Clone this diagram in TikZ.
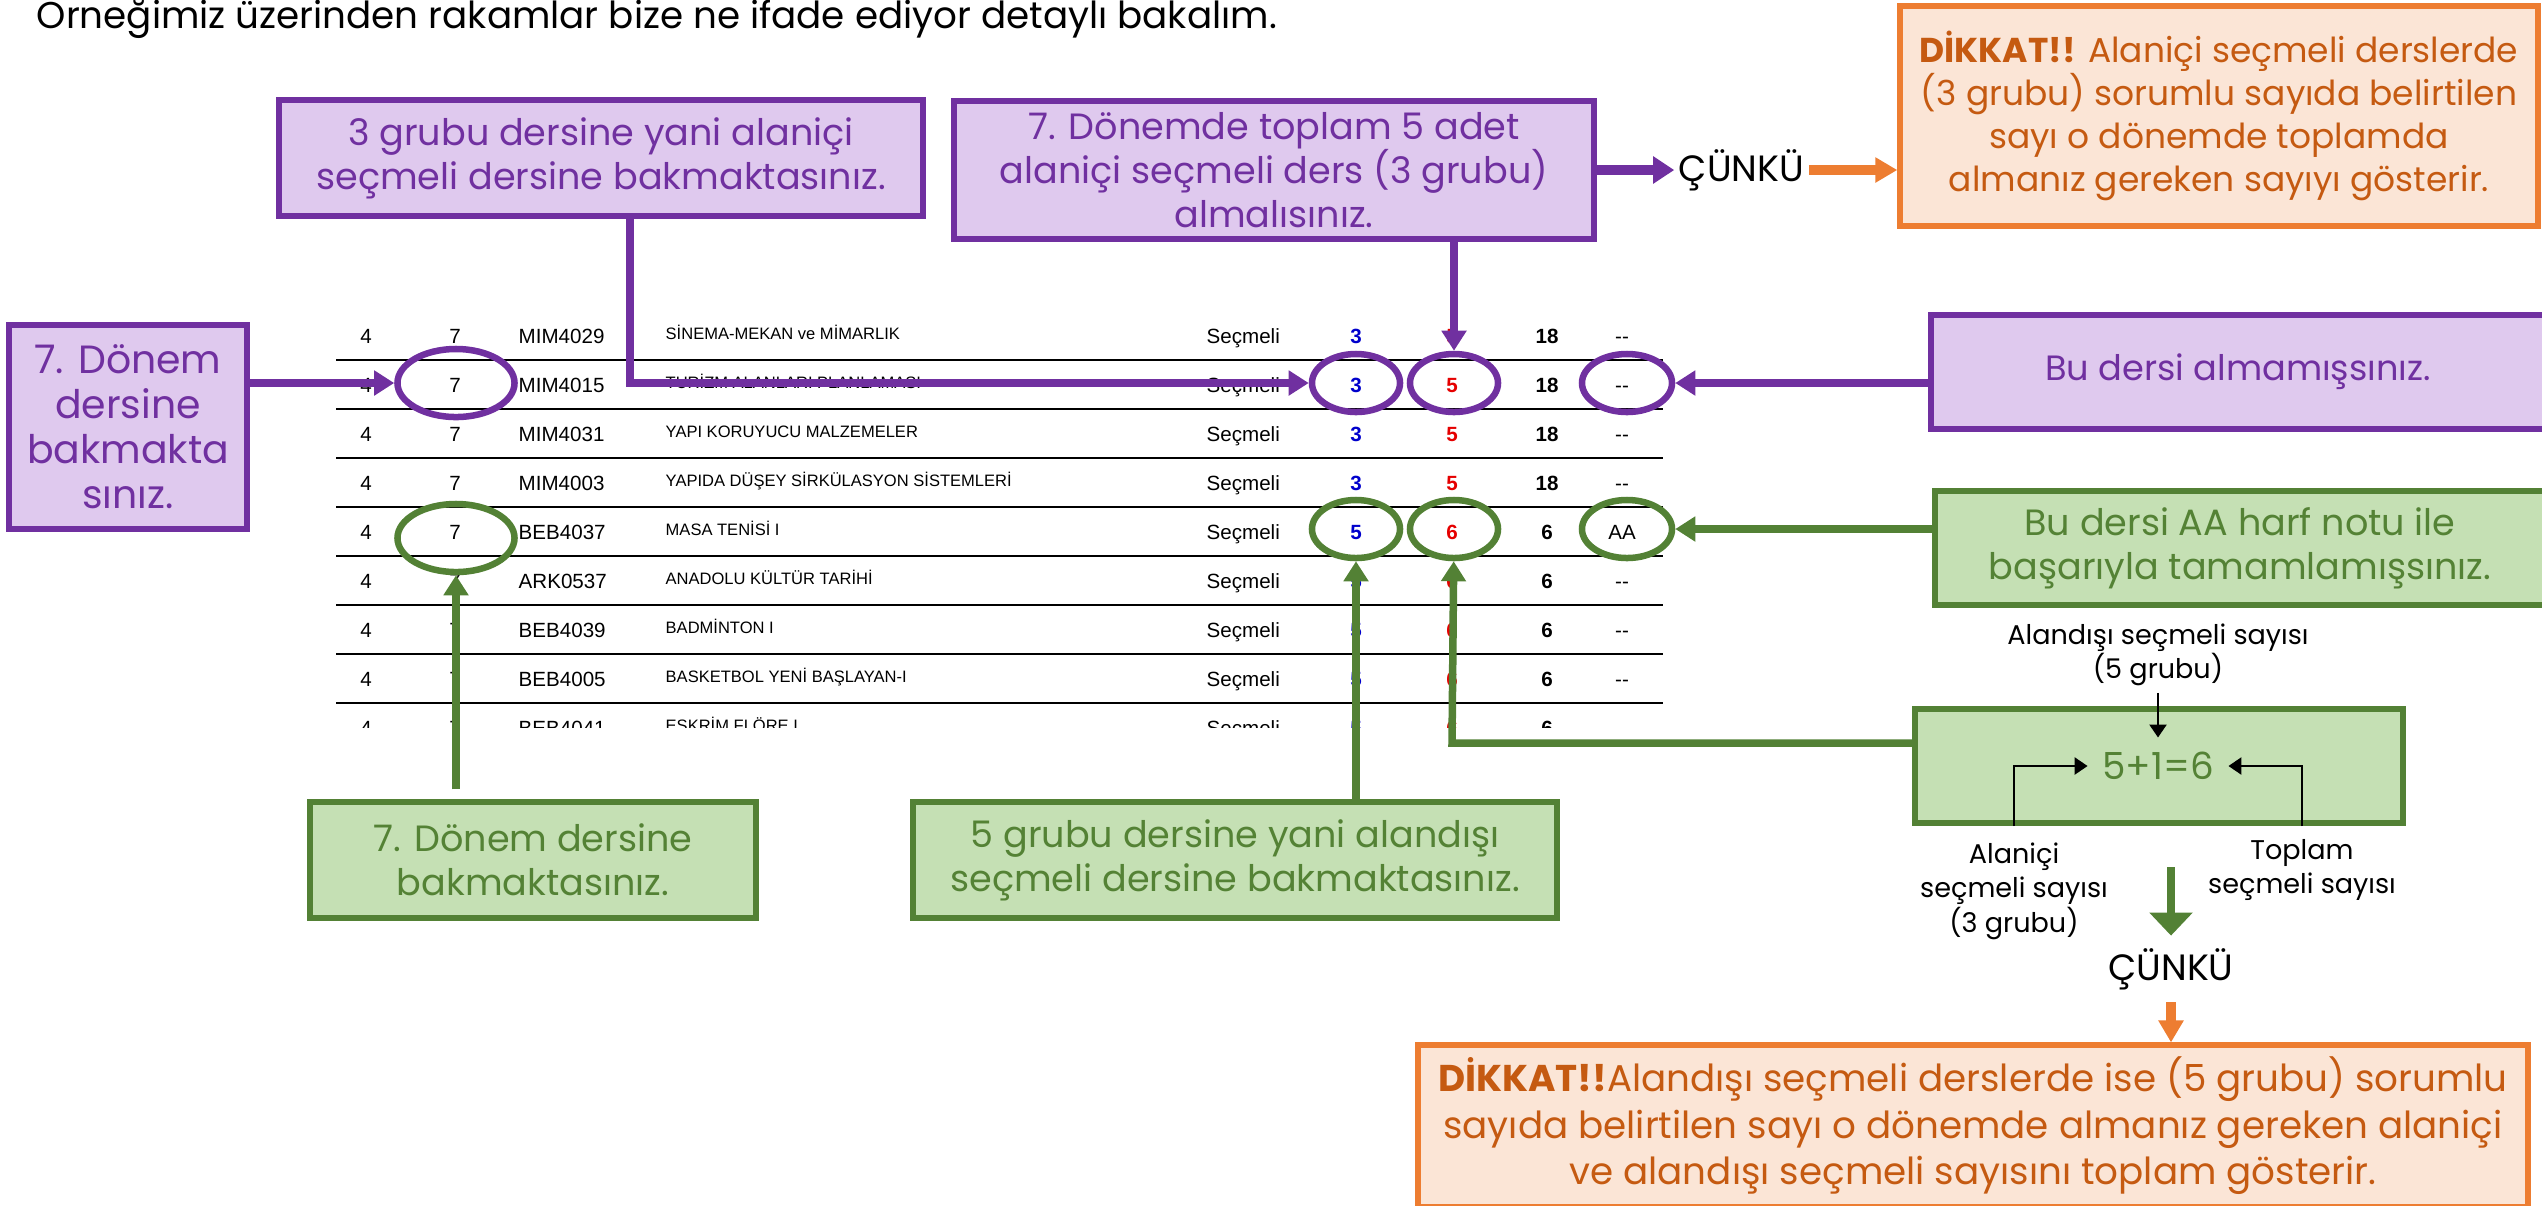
\documentclass[tikz,border=0pt]{standalone}
\usepackage{fontspec}
\setmainfont{Poppins}
\newfontfamily\tablefont{Liberation Sans}
\usetikzlibrary{shapes.geometric,arrows.meta,positioning,calc}
\definecolor{purpleline}{HTML}{7030A0}
\definecolor{purplefill}{HTML}{DFC9EE}
\definecolor{greenline}{HTML}{538135}
\definecolor{greenfill}{HTML}{C5E0B4}
\definecolor{greentext}{HTML}{548235}
\definecolor{orangeline}{HTML}{ED7D31}
\definecolor{orangefill}{HTML}{FBE5D6}
\definecolor{orangetext}{HTML}{C55A11}
\newcommand\boxfont{\fontsize{10.4}{12.5}\selectfont}
\tikzset{
pbox/.style = {draw=purpleline, fill=purplefill, line width=0.06cm, rectangle, align=center, text=purpleline, font=\boxfont},
gbox/.style = {draw=greenline, fill=greenfill, line width=0.06cm, rectangle, align=center, text=greentext, font=\boxfont},
obox/.style = {draw=orangeline, fill=orangefill, line width=0.06cm, rectangle, align=center, text=orangetext, font=\boxfont},
ring/.style = {ellipse, line width=0.065cm, inner sep=0pt, minimum width=0.88cm, minimum height=0.58cm},
cell/.style = {font=\tablefont\fontsize{5.85}{7}\selectfont, inner sep=0pt},
cname/.style = {font=\tablefont\fontsize{4.7}{6}\selectfont, inner sep=0pt},
rowline/.style = {draw=black, line width=0.025cm},
cunku/.style = {font=\boxfont, inner sep=0.04cm},
sumnote/.style = {align=center, font=\fontsize{7.7}{9.8}\selectfont, inner sep=0.06cm},
parrow/.style = {draw=purpleline, line width=0.075cm, -{Triangle[length=0.2cm,width=0.24cm]}},
garrow/.style = {draw=greenline, line width=0.075cm, -{Triangle[length=0.2cm,width=0.24cm]}},
oarrow/.style = {draw=orangeline, line width=0.1cm, -{Triangle[length=0.22cm,width=0.24cm]}},
karrow/.style = {draw=black, line width=0.025cm, -{Triangle[length=0.13cm,width=0.17cm]}}
}
\begin{document}
\begin{tikzpicture}[x=0.01cm, y=-0.01cm]
\useasboundingbox (0,0) rectangle (2542,1205);
\node[anchor=base west, inner sep=0pt, font=\fontsize{10.6}{12.5}\selectfont] (title) at (36,28) {Örneğimiz üzerinden rakamlar bize ne ifade ediyor detaylı bakalım.};

% table
\begin{scope}
\clip (300,290) rectangle (1700,727);
\foreach \r in {1,...,8}
  \draw[rowline] (336,311+49*\r) -- (1663,311+49*\r);
\foreach \code/\cname/\na/\nb/\kr/\gr [count=\r] in {
  MIM4029/SİNEMA-MEKAN ve MİMARLIK/3/5/18/-{}-,
  MIM4015/TURİZM ALANLARI PLANLAMASI/3/5/18/-{}-,
  MIM4031/YAPI KORUYUCU MALZEMELER/3/5/18/-{}-,
  MIM4003/YAPIDA DÜŞEY SİRKÜLASYON SİSTEMLERİ/3/5/18/-{}-,
  BEB4037/MASA TENİSİ I/5/6/6/AA,
  ARK0537/ANADOLU KÜLTÜR TARİHİ/5/6/6/-{}-,
  BEB4039/BADMİNTON I/5/6/6/-{}-,
  BEB4005/BASKETBOL YENİ BAŞLAYAN-I/5/6/6/-{}-,
  BEB4041/ESKRİM FLÖRE I/5/6/6/-{}-}
{
  \pgfmathtruncatemacro\by{294+49*\r}
  \node[cell, anchor=base] (yr\r) at (366,\by) {4};
  \node[cell, anchor=base] (sem\r) at (455,\by) {7};
  \node[cell, anchor=base west] (code\r) at (518,\by) {\code};
  \node[cname, anchor=base west] (cname\r) at (665,\by-4) {\cname};
  \node[cell, anchor=base west] (kind\r) at (1206,\by) {Seçmeli};
  \node[cell, anchor=base, text=blue!80!black, font=\tablefont\fontsize{5.85}{7}\selectfont\bfseries] (na\r) at (1356,\by) {\na};
  \node[cell, anchor=base, text=red!90!black, font=\tablefont\fontsize{5.85}{7}\selectfont\bfseries] (nb\r) at (1452,\by) {\nb};
  \node[cell, anchor=base, font=\tablefont\fontsize{5.85}{7}\selectfont\bfseries] (kr\r) at (1547,\by) {\kr};
  \node[cell, anchor=base] (gr\r) at (1622,\by) {\gr};
}
\end{scope}

\node[ring, draw=purpleline, minimum width=1.17cm, minimum height=0.68cm] (ring7p) at (456,383) {};
\node[ring, draw=purpleline] (ring3p) at (1356,383) {};
\node[ring, draw=purpleline] (ring5p) at (1454,383) {};
\node[ring, draw=purpleline, minimum width=0.9cm] (ringdp) at (1627,383) {};
\node[ring, draw=greenline, minimum width=1.17cm, minimum height=0.68cm] (ring7g) at (456,538) {};
\node[ring, draw=greenline] (ring5g) at (1356,529) {};
\node[ring, draw=greenline] (ring6g) at (1454,529) {};
\node[ring, draw=greenline, minimum width=0.9cm] (ringag) at (1627,529) {};

\node[pbox, minimum width=6.44cm, minimum height=1.16cm] (boxA) at (601,158) {3 grubu dersine yani alaniçi\\seçmeli dersine bakmaktasınız.};
\node[pbox, minimum width=6.40cm, minimum height=1.38cm] (boxB) at (1274,170) {7. Dönemde toplam 5 adet\\alaniçi seçmeli ders (3 grubu)\\almalısınız.};
\node[pbox, minimum width=2.37cm, minimum height=2.03cm, font=\fontsize{11.2}{12.8}\selectfont] (lbox) at (128,427) {7. Dönem\\dersine\\bakmakta\\sınız.};
\node[pbox, minimum width=6.13cm, minimum height=1.14cm, font=\fontsize{10}{12}\selectfont] (ntbox) at (2238,372) {Bu dersi almamışsınız.};
\node[cunku, right=0.77cm of boxB] (cunkuA) {ÇÜNKÜ};
\node[obox, minimum width=6.37cm, minimum height=2.2cm, font=\fontsize{9.8}{12.2}\selectfont] (oboxA) at (2219,116) {\textbf{DİKKAT!!} Alaniçi seçmeli derslerde\\(3 grubu) sorumlu sayıda belirtilen\\sayı o dönemde toplamda\\almanız gereken sayıyı gösterir.};

\node[gbox, minimum width=6.10cm, minimum height=1.14cm] (aabox) at (2240,548) {Bu dersi AA harf notu ile\\başarıyla tamamlamışsınız.};
\node[gbox, minimum width=4.46cm, minimum height=1.15cm] (gbox1) at (533,860) {7. Dönem dersine\\bakmaktasınız.};
\node[gbox, minimum width=6.44cm, minimum height=1.15cm] (gbox2) at (1235,860) {5 grubu dersine yani alandışı\\seçmeli dersine bakmaktasınız.};
\node[gbox, minimum width=4.88cm, minimum height=1.14cm] (sumbox) at (2159,766) {};
\node[font=\fontsize{10.6}{12.5}\selectfont, text=greentext, inner sep=0.14cm] (sumtxt) at (2158,766) {5+1=6};
\node[sumnote] (lab5) at (2158,655) {Alandışı seçmeli sayısı\\(5 grubu)};
\node[sumnote] (lab3) at (2014,891) {Alaniçi\\seçmeli sayısı\\(3 grubu)};
\node[sumnote] (labT) at (2302,870) {Toplam\\seçmeli sayısı};
\node[cunku, inner sep=0.12cm] (cunkuB) at (2171,969) {ÇÜNKÜ};
\node[obox, minimum width=11.10cm, minimum height=1.48cm, font=\fontsize{10.6}{13.2}\selectfont] (oboxB) at (1973,1126) {\textbf{DİKKAT!!}Alandışı seçmeli derslerde ise (5 grubu) sorumlu\\sayıda belirtilen sayı o dönemde almanız gereken alaniçi\\ve alandışı seçmeli sayısını toplam gösterir.};

\coordinate (turnA) at (630,383);
\coordinate (turnG) at (1452,743);
\draw[parrow] (lbox.east |- ring7p) -- (ring7p);
\draw[parrow] (boxA.south -| turnA) -- (turnA) -- (ring3p);
\draw[parrow] (boxB.south -| ring5p) -- (ring5p);
\draw[parrow] (ntbox.west |- ringdp) -- (ringdp);
\draw[parrow, line width=0.1cm, -{Triangle[length=0.21cm,width=0.26cm]}] (boxB.east) -- (cunkuA);
\draw[oarrow] (cunkuA) -- (oboxA.west |- cunkuA);
\draw[garrow] (aabox.west |- ringag) -- (ringag);
\draw[garrow, shorten <=0.1cm] (gbox1.north -| ring7g) -- (ring7g);
\draw[garrow] (gbox2.north -| ring5g) -- (ring5g);
\draw[garrow] (sumbox.west |- turnG) -- (turnG) -- (ring6g);
\draw[karrow] (lab5) -- (sumtxt);
\draw[karrow] (lab3.north |- sumbox.south) -- (lab3.north |- sumtxt) -- (sumtxt);
\draw[karrow] (labT.north |- sumbox.south) -- (labT.north |- sumtxt) -- (sumtxt);
\draw[garrow, line width=0.085cm, -{Triangle[length=0.23cm,width=0.42cm]}, shorten <=0.41cm] (cunkuB |- sumbox.south) -- (cunkuB);
\draw[oarrow] (cunkuB) -- (cunkuB |- oboxB.north);
\end{tikzpicture}
\end{document}
